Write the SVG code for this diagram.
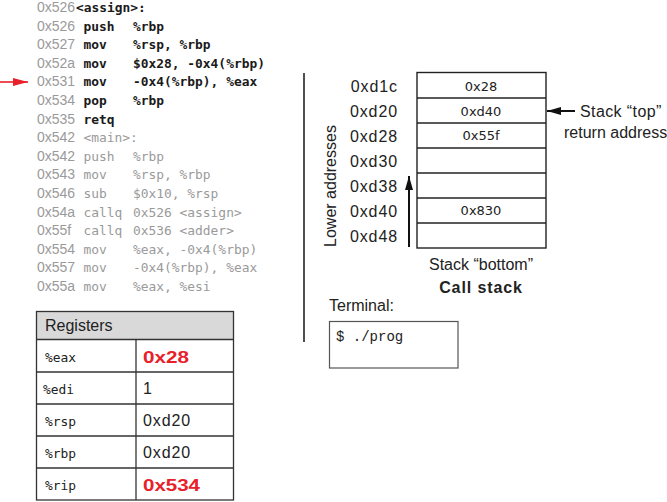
<svg xmlns="http://www.w3.org/2000/svg" width="667" height="502" viewBox="0 0 667 502">
<style>
.addr{font-family:"Liberation Sans",Arial,sans-serif;font-size:14px;fill:#9a9a9a}
.code{font-family:"DejaVu Sans Mono",monospace;font-size:12.9px;fill:#9a9a9a}
.codeb{font-family:"DejaVu Sans Mono",monospace;font-size:12.9px;fill:#1a1a1a;font-weight:bold}
.sans{font-family:"Liberation Sans",Arial,sans-serif;font-size:16px;fill:#222}
.cell{font-family:"DejaVu Sans",sans-serif;font-size:13px;fill:#222}
.reg{font-family:"DejaVu Sans Mono",monospace;font-size:12.9px;fill:#222}
.red{font-family:"Liberation Sans",Arial,sans-serif;font-size:17px;font-weight:bold;fill:#e8202a}
.ln{stroke:#222;stroke-width:1.4;fill:none}
.tb{stroke:#333;stroke-width:1.3;fill:none}
.ls{letter-spacing:0.9px}
</style>
<defs>
<marker id="ah" viewBox="0 0 10 10" refX="10" refY="5" markerWidth="14" markerHeight="8" markerUnits="userSpaceOnUse" orient="auto" preserveAspectRatio="none">
<path d="M0,0 L10,5 L0,10 z" fill="#111"/>
</marker>
<marker id="ahr" viewBox="0 0 10 10" refX="10" refY="5" markerWidth="15" markerHeight="8" markerUnits="userSpaceOnUse" orient="auto" preserveAspectRatio="none">
<path d="M0,0 L10,5 L0,10 z" fill="#e8202a"/>
</marker>
</defs>

<g id="code">
<text class="addr" x="37" y="12">0x526</text><text class="codeb" x="76" y="12">&lt;assign&gt;:</text>
<text class="addr" x="37" y="30.6">0x526</text><text class="codeb" x="83.5" y="30.6">push</text><text class="codeb" x="133" y="30.6">%rbp</text>
<text class="addr" x="37" y="49.2">0x527</text><text class="codeb" x="83.5" y="49.2">mov</text><text class="codeb" x="133" y="49.2">%rsp, %rbp</text>
<text class="addr" x="37" y="67.8">0x52a</text><text class="codeb" x="83.5" y="67.8">mov</text><text class="codeb" x="133" y="67.8">$0x28, -0x4(%rbp)</text>
<text class="addr" x="37" y="86.4">0x531</text><text class="codeb" x="83.5" y="86.4">mov</text><text class="codeb" x="133" y="86.4">-0x4(%rbp), %eax</text>
<text class="addr" x="37" y="105">0x534</text><text class="codeb" x="83.5" y="105">pop</text><text class="codeb" x="133" y="105">%rbp</text>
<text class="addr" x="37" y="123.6">0x535</text><text class="codeb" x="83.5" y="123.6">retq</text>
<text class="addr" x="37" y="142.2">0x542</text><text class="code" x="83.5" y="142.2">&lt;main&gt;:</text>
<text class="addr" x="37" y="160.8">0x542</text><text class="code" x="83.5" y="160.8">push</text><text class="code" x="133" y="160.8">%rbp</text>
<text class="addr" x="37" y="179.4">0x543</text><text class="code" x="83.5" y="179.4">mov</text><text class="code" x="133" y="179.4">%rsp, %rbp</text>
<text class="addr" x="37" y="198">0x546</text><text class="code" x="83.5" y="198">sub</text><text class="code" x="133" y="198">$0x10, %rsp</text>
<text class="addr" x="37" y="216.6">0x54a</text><text class="code" x="83.5" y="216.6">callq</text><text class="code" x="133" y="216.6">0x526 &lt;assign&gt;</text>
<text class="addr" x="37" y="235.2">0x55f</text><text class="code" x="83.5" y="235.2">callq</text><text class="code" x="133" y="235.2">0x536 &lt;adder&gt;</text>
<text class="addr" x="37" y="253.8">0x554</text><text class="code" x="83.5" y="253.8">mov</text><text class="code" x="133" y="253.8">%eax, -0x4(%rbp)</text>
<text class="addr" x="37" y="272.4">0x557</text><text class="code" x="83.5" y="272.4">mov</text><text class="code" x="133" y="272.4">-0x4(%rbp), %eax</text>
<text class="addr" x="37" y="291">0x55a</text><text class="code" x="83.5" y="291">mov</text><text class="code" x="133" y="291">%eax, %esi</text>
</g>

<g id="registers">
<rect x="36.5" y="311.5" width="197" height="28" fill="#d9d9d9"/>
<rect x="36.5" y="311.5" width="197" height="188.5" class="tb"/>
<line x1="36.5" y1="339.5" x2="233.5" y2="339.5" class="tb"/>
<line x1="36.5" y1="372" x2="233.5" y2="372" class="tb"/>
<line x1="36.5" y1="404" x2="233.5" y2="404" class="tb"/>
<line x1="36.5" y1="436" x2="233.5" y2="436" class="tb"/>
<line x1="36.5" y1="468" x2="233.5" y2="468" class="tb"/>
<line x1="136" y1="339.5" x2="136" y2="500" class="tb"/>
<text class="sans" x="45" y="331" fill="#333">Registers</text>
<text class="reg" x="45" y="362">%eax</text><text class="red" x="143" y="362.5" textLength="46" lengthAdjust="spacingAndGlyphs">0x28</text>
<text class="reg" x="43" y="394">%edi</text><text class="sans" x="143" y="394">1</text>
<text class="reg" x="45" y="426">%rsp</text><text class="sans ls" x="143" y="426">0xd20</text>
<text class="reg" x="45" y="458">%rbp</text><text class="sans ls" x="143" y="458">0xd20</text>
<text class="reg" x="45" y="490">%rip</text><text class="red" x="143" y="490.5" textLength="57" lengthAdjust="spacingAndGlyphs">0x534</text>
</g>

<g id="stack">
<rect x="417" y="72.5" width="129" height="175.5" class="ln"/>
<line x1="417" y1="98" x2="546" y2="98" class="ln"/>
<line x1="417" y1="123" x2="546" y2="123" class="ln"/>
<line x1="417" y1="148" x2="546" y2="148" class="ln"/>
<line x1="417" y1="173" x2="546" y2="173" class="ln"/>
<line x1="417" y1="198" x2="546" y2="198" class="ln"/>
<line x1="417" y1="223" x2="546" y2="223" class="ln"/>
<text class="cell" x="481" y="91" text-anchor="middle">0x28</text>
<text class="cell" x="481" y="115.5" text-anchor="middle">0xd40</text>
<text class="cell" x="481" y="140" text-anchor="middle">0x55f</text>
<text class="cell" x="481" y="215" text-anchor="middle">0x830</text>
<g class="sans ls" text-anchor="end">
<text x="398" y="92">0xd1c</text>
<text x="398" y="117">0xd20</text>
<text x="398" y="142">0xd28</text>
<text x="398" y="167">0xd30</text>
<text x="398" y="192">0xd38</text>
<text x="398" y="217">0xd40</text>
<text x="398" y="242">0xd48</text>
</g>
<text class="sans" transform="translate(336,186) rotate(-90)" text-anchor="middle">Lower addresses</text>
<text class="sans" x="481" y="270" text-anchor="middle">Stack “bottom”</text>
<text class="sans ls" x="481" y="293" text-anchor="middle" font-weight="bold">Call stack</text>
<text class="sans" x="580" y="117" style="letter-spacing:0.4px">Stack “top”</text>
<text class="sans" x="564" y="138" fill="#7a7a7a">return address</text>
</g>

<g id="terminal">
<text class="sans" x="329" y="311">Terminal:</text>
<rect x="329.5" y="321.5" width="128.5" height="46.5" fill="none" stroke="#555" stroke-width="1.2"/>
<text x="336" y="341" font-family="Liberation Mono,monospace" font-size="14" fill="#222">$ ./prog</text>
</g>

<g id="connectors">
<line x1="304" y1="73" x2="304" y2="342" stroke="#222" stroke-width="1.6"/>
<line x1="409" y1="247" x2="409" y2="176" stroke="#111" stroke-width="2" marker-end="url(#ah)"/>
<line x1="575" y1="111" x2="547" y2="111" stroke="#111" stroke-width="2" marker-end="url(#ah)"/>
<line x1="0" y1="82" x2="28" y2="82" stroke="#e8202a" stroke-width="1.6" marker-end="url(#ahr)"/>
</g>
</svg>
